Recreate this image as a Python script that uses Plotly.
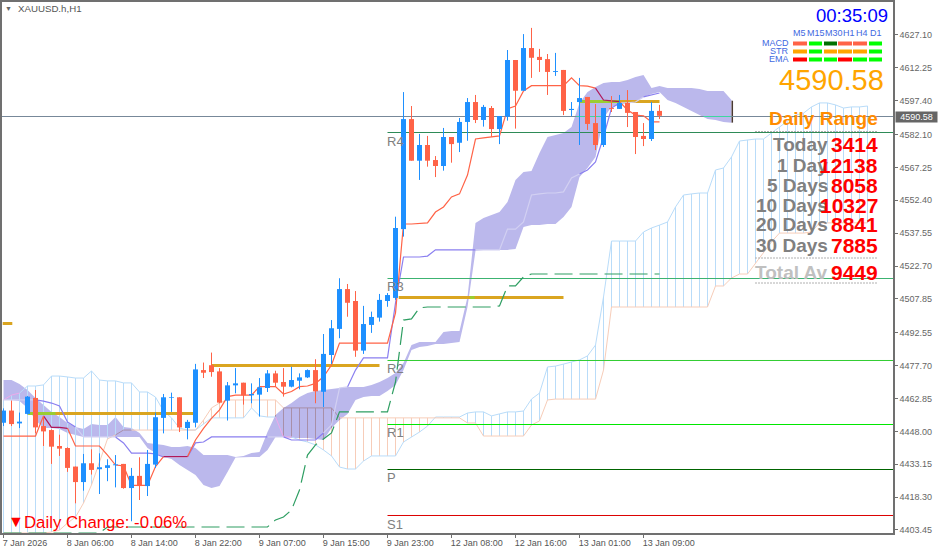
"""
XAUUSD.h H1 chart with Ichimoku cloud, pivots and the daily range panel.
"""

import plotly.graph_objects as go

# ---------------------------------------------------------------------------
# Data
# ---------------------------------------------------------------------------
x_labels = ["7 Jan 2026", "8 Jan 06:00", "8 Jan 14:00", "8 Jan 22:00", "9 Jan 07:00", "9 Jan 15:00",
            "9 Jan 23:00", "12 Jan 08:00", "12 Jan 16:00", "13 Jan 01:00", "13 Jan 09:00"]
x_label_bars = [0, 8, 16, 24, 32, 40, 48, 56, 64, 72, 80]
y_ticks = [4627.10, 4612.25, 4597.40, 4582.10, 4567.25, 4552.40, 4537.55, 4522.70,
           4507.85, 4492.55, 4477.70, 4462.85, 4448.00, 4433.15, 4418.30, 4403.45]

opens = [4451.9, 4457.4, 4451.6, 4455.9, 4463.1, 4450.4, 4448.6, 4441.4, 4440.5, 4432.1,
         4425.1, 4433.6, 4430.9, 4431.5, 4432.7, 4433.3, 4422.4, 4427.9, 4423.3, 4433.0,
         4454.1, 4463.1, 4463.4, 4449.5, 4451.9, 4475.7, 4477.9, 4475.1, 4461.9, 4468.8,
         4470.0, 4464.3, 4464.6, 4467.6, 4474.2, 4470.3, 4468.2, 4470.9, 4472.4, 4475.7,
         4465.9, 4482.5, 4494.3, 4512.3, 4506.9, 4484.5, 4496.1, 4499.4, 4506.9, 4508.3,
         4539.4, 4589.1, 4570.3, 4577.4, 4570.6, 4567.9, 4581.0, 4578.4, 4587.8, 4596.8,
         4588.7, 4594.1, 4584.6, 4590.2, 4615.8, 4601.9, 4621.2, 4617.2, 4616.2, 4610.4,
         4611.3, 4593.2, 4596.8, 4599.1, 4587.3, 4577.4, 4594.1, 4593.7, 4596.4, 4592.3,
         4581.5, 4580.1, 4592.8]
highs = [4458.4, 4461.9, 4456.5, 4464.0, 4466.7, 4455.0, 4448.9, 4446.5, 4440.8, 4432.1,
         4437.8, 4439.9, 4438.1, 4435.4, 4437.3, 4433.3, 4431.5, 4436.3, 4439.6, 4456.5,
         4464.9, 4465.5, 4463.4, 4453.2, 4478.5, 4479.1, 4483.6, 4476.6, 4470.3, 4476.6,
         4470.0, 4469.7, 4472.1, 4475.7, 4475.4, 4476.6, 4477.2, 4474.2, 4476.0, 4480.6,
         4492.0, 4498.3, 4517.2, 4514.6, 4511.4, 4504.7, 4502.1, 4510.1, 4510.5, 4545.0,
         4601.3, 4595.0, 4582.4, 4581.5, 4572.4, 4585.1, 4581.0, 4589.6, 4598.6, 4600.0,
         4595.5, 4595.0, 4590.5, 4620.3, 4615.8, 4627.5, 4630.3, 4620.8, 4618.5, 4619.0,
         4611.3, 4596.8, 4607.7, 4599.1, 4595.9, 4594.1, 4599.5, 4600.0, 4602.2, 4592.3,
         4587.3, 4596.8, 4595.5]
lows = [4450.4, 4450.4, 4449.5, 4455.6, 4447.1, 4441.4, 4433.3, 4436.9, 4429.7, 4415.5,
        4421.2, 4428.5, 4419.7, 4425.5, 4422.7, 4422.1, 4407.4, 4417.0, 4418.8, 4431.5,
        4447.1, 4456.8, 4447.7, 4444.4, 4449.8, 4472.1, 4472.7, 4460.7, 4452.9, 4465.2,
        4460.1, 4460.7, 4454.7, 4465.8, 4468.2, 4463.7, 4467.9, 4467.0, 4472.1, 4460.7,
        4459.0, 4478.4, 4490.1, 4499.8, 4481.7, 4483.0, 4492.5, 4497.6, 4504.3, 4507.4,
        4536.0, 4570.3, 4561.6, 4567.6, 4562.9, 4565.8, 4569.4, 4574.2, 4579.3, 4587.3,
        4585.7, 4581.1, 4577.8, 4588.4, 4584.8, 4601.9, 4607.7, 4610.4, 4600.0, 4608.6,
        4590.9, 4590.5, 4577.4, 4584.2, 4575.1, 4576.5, 4592.3, 4593.7, 4585.5, 4573.3,
        4576.9, 4579.2, 4589.1]
closes = [4457.4, 4451.3, 4452.4, 4463.7, 4449.8, 4448.0, 4441.1, 4440.2, 4431.5, 4425.1,
          4433.6, 4430.6, 4431.8, 4432.7, 4433.1, 4422.4, 4427.9, 4423.3, 4433.3, 4454.4,
          4463.4, 4463.4, 4449.8, 4452.3, 4476.0, 4474.5, 4474.8, 4461.0, 4468.8, 4469.7,
          4464.3, 4464.9, 4467.9, 4474.2, 4470.0, 4468.2, 4471.2, 4472.4, 4475.7, 4466.1,
          4483.0, 4494.6, 4512.3, 4506.1, 4484.5, 4496.5, 4499.7, 4507.4, 4509.6, 4539.9,
          4589.1, 4570.3, 4577.4, 4570.3, 4567.9, 4581.0, 4577.8, 4587.8, 4596.8, 4588.7,
          4594.6, 4584.6, 4590.5, 4615.8, 4601.9, 4621.2, 4616.8, 4615.8, 4610.4, 4610.8,
          4592.8, 4593.7, 4598.6, 4586.9, 4577.4, 4594.1, 4593.7, 4596.4, 4591.9, 4581.0,
          4580.1, 4592.8, 4590.58]

tenkan = [4445.9, 4445.9, 4445.9, 4445.9, 4445.9, 4455.0, 4449.8, 4449.8, 4449.4, 4441.4,
          4441.4, 4441.4, 4441.4, 4437.3, 4432.8, 4432.4, 4423.6, 4423.6, 4423.6, 4432.1,
          4436.6, 4436.6, 4436.6, 4436.6, 4444.1, 4449.4, 4453.9, 4457.7, 4463.7, 4464.4,
          4464.4, 4464.4, 4468.2, 4468.2, 4468.2, 4464.9, 4466.0, 4468.2, 4468.5, 4469.7,
          4472.7, 4478.0, 4487.9, 4487.9, 4487.9, 4487.9, 4487.9, 4487.9, 4487.9, 4501.5,
          4541.7, 4541.7, 4541.9, 4542.2, 4547.1, 4549.4, 4553.9, 4555.3, 4563.8, 4580.1,
          4580.6, 4581.0, 4581.5, 4593.7, 4595.0, 4601.8, 4604.2, 4604.2, 4604.2, 4604.2,
          4604.2, 4607.7, 4604.2, 4604.0, 4603.1, 4597.7, 4597.3, 4597.0, 4593.2, 4590.9,
          4590.6, 4587.8, 4587.8]
kijun = [4462.2, 4462.2, 4462.2, 4462.2, 4462.2, 4461.7, 4460.8, 4459.5, 4452.2, 4450.0,
         4445.5, 4445.5, 4445.5, 4445.5, 4445.5, 4442.8, 4438.2, 4438.2, 4438.2, 4437.8,
         4436.4, 4436.4, 4436.4, 4436.4, 4442.8, 4443.2, 4445.5, 4445.5, 4445.5, 4445.5,
         4445.5, 4445.5, 4445.5, 4445.5, 4445.5, 4445.5, 4444.1, 4444.1, 4444.1, 4444.1,
         4447.3, 4450.9, 4467.6, 4468.1, 4475.7, 4481.2, 4481.2, 4481.2, 4481.2, 4506.0,
         4526.8, 4526.8, 4526.8, 4527.2, 4530.0, 4530.0, 4530.0, 4530.0, 4530.0, 4530.0,
         4530.0, 4530.0, 4530.0, 4539.4, 4539.4, 4542.6, 4554.8, 4555.3, 4555.7, 4555.7,
         4556.2, 4562.5, 4564.3, 4566.1, 4569.7, 4581.0, 4594.1, 4596.4, 4596.4, 4596.8,
         4599.1, 4600.0, 4600.9]
chikou = [4402.1, 4402.1, 4402.1, 4402.1, 4402.1, 4402.1, 4402.1, 4402.1, 4402.1, 4402.1,
          4402.1, 4402.1, 4402.1, 4404.8, 4404.8, 4404.8, 4404.8, 4404.8, 4404.8, 4404.8,
          4404.8, 4404.8, 4404.8, 4404.8, 4404.8, 4404.8, 4404.8, 4404.8, 4404.8, 4404.8,
          4404.8, 4404.8, 4404.8, 4404.8, 4408.0, 4409.3, 4412.5, 4421.5, 4437.3, 4441.9,
          4444.6, 4447.3, 4456.8, 4456.8, 4456.8, 4456.8, 4456.8, 4456.8, 4456.8, 4470.3,
          4498.3, 4498.8, 4503.8, 4504.2, 4504.2, 4504.2, 4504.2, 4504.2, 4504.2, 4504.2,
          4504.2, 4504.2, 4504.7, 4513.7, 4513.7, 4517.8, 4519.1, 4519.1, 4519.1, 4519.1,
          4519.1, 4519.1, 4519.1, 4519.1, 4519.1, 4519.1, 4519.1, 4519.1, 4519.1, 4519.1,
          4519.1, 4519.1, 4519.1]

# hatched cloud, runs 26 bars past the last candle
span_a = [4462.2, 4464.4, 4465.3, 4468.5, 4468.5, 4469.0, 4473.0, 4473.0, 4472.6, 4472.1,
          4472.1, 4475.3, 4471.2, 4470.8, 4470.8, 4469.9, 4469.9, 4465.8, 4465.8, 4463.5,
          4457.2, 4454.1, 4449.5, 4448.6, 4448.6, 4451.3, 4454.1, 4454.1, 4454.1, 4454.1,
          4454.1, 4458.6, 4455.0, 4454.5, 4454.5, 4445.5, 4445.5, 4444.1, 4443.2, 4441.9,
          4439.6, 4436.9, 4431.9, 4431.0, 4431.0, 4434.6, 4436.9, 4436.9, 4436.9, 4436.9,
          4443.2, 4445.5, 4447.7, 4450.4, 4454.5, 4454.5, 4454.5, 4454.5, 4456.3, 4456.8,
          4456.8, 4455.0, 4455.9, 4456.8, 4456.8, 4457.2, 4462.6, 4465.3, 4477.1, 4477.5,
          4478.4, 4479.3, 4480.3, 4482.1, 4487.0, 4508.7, 4534.0, 4534.0, 4534.0, 4534.0,
          4538.1, 4539.9, 4541.2, 4542.6, 4549.4, 4554.8, 4555.3, 4555.7, 4555.7, 4566.1,
          4567.0, 4572.0, 4579.2, 4579.7, 4580.1, 4580.1, 4582.8, 4585.5, 4587.8, 4590.9,
          4591.8, 4594.6, 4596.4, 4596.4, 4595.5, 4594.1, 4594.6, 4594.6, 4595.0]
span_b = [4402.1, 4402.1, 4402.1, 4402.1, 4402.1, 4402.1, 4402.5, 4403.4, 4406.6, 4409.3,
          4415.6, 4423.8, 4434.2, 4444.6, 4446.4, 4448.6, 4448.6, 4448.6, 4448.6, 4448.6,
          4448.6, 4448.6, 4448.6, 4448.6, 4448.6, 4453.1, 4458.6, 4460.8, 4462.2, 4462.2,
          4462.2, 4462.2, 4462.2, 4462.2, 4462.2, 4458.6, 4458.6, 4458.6, 4458.6, 4458.6,
          4458.6, 4458.6, 4454.1, 4454.1, 4454.1, 4454.1, 4454.1, 4454.1, 4454.1, 4454.1,
          4454.1, 4454.1, 4454.1, 4454.1, 4454.1, 4454.1, 4454.1, 4454.1, 4451.8, 4451.8,
          4445.9, 4445.9, 4445.9, 4445.9, 4445.9, 4445.9, 4450.9, 4452.7, 4462.2, 4462.6,
          4462.6, 4462.6, 4462.6, 4462.6, 4462.6, 4475.7, 4504.2, 4504.2, 4504.2, 4504.2,
          4504.2, 4504.2, 4504.2, 4504.2, 4504.2, 4504.2, 4504.2, 4504.2, 4504.2, 4513.7,
          4513.7, 4517.3, 4519.1, 4519.1, 4524.1, 4528.6, 4533.6, 4537.6, 4537.6, 4537.6,
          4537.6, 4538.1, 4542.2, 4542.2, 4542.2, 4542.2, 4542.2, 4542.2, 4542.2]

# filled lavender cloud
cloud_top = [4471.2, 4471.2, 4469.4, 4466.7, 4463.1, 4459.9, 4456.8, 4454.5, 4451.8, 4450.0,
             4449.1, 4451.3, 4450.9, 4450.9, 4454.5, 4450.0, 4449.5, 4447.3, 4442.8, 4442.3,
             4441.9, 4441.0, 4441.0, 4441.4, 4440.5, 4437.3, 4437.3, 4437.3, 4437.3, 4436.4,
             4436.9, 4438.2, 4438.7, 4447.7, 4455.4, 4458.6, 4460.8, 4463.5, 4465.3, 4466.2,
             4466.7, 4467.2, 4467.6, 4468.1, 4468.1, 4468.1, 4469.0, 4470.3, 4472.1, 4474.4,
             4478.9, 4487.0, 4488.4, 4488.4, 4488.4, 4492.9, 4493.4, 4493.4, 4508.7, 4542.2,
             4544.4, 4545.8, 4547.1, 4551.6, 4561.6, 4565.2, 4565.6, 4573.8, 4581.0, 4581.9,
             4582.8, 4585.5, 4596.4, 4601.3, 4603.6, 4605.4, 4605.9, 4605.9, 4606.8, 4608.1,
             4609.0, 4603.1, 4604.0, 4603.1, 4603.1, 4603.1, 4603.1, 4602.7, 4601.8, 4601.8,
             4601.8, 4597.7]
cloud_bottom = [4462.2, 4462.2, 4461.7, 4458.6, 4453.1, 4449.5, 4449.5, 4449.1, 4447.3, 4446.4,
                4445.5, 4445.5, 4445.5, 4445.5, 4445.5, 4445.5, 4445.5, 4445.5, 4440.5, 4438.2,
                4436.4, 4435.5, 4432.8, 4430.6, 4428.3, 4423.8, 4422.4, 4423.3, 4429.7, 4436.2,
                4436.4, 4436.4, 4436.4, 4439.6, 4445.5, 4445.5, 4445.0, 4445.0, 4445.0, 4444.6,
                4444.1, 4449.5, 4453.1, 4455.9, 4462.2, 4463.5, 4464.0, 4464.0, 4466.2, 4469.0,
                4475.7, 4484.8, 4486.1, 4486.6, 4487.5, 4487.5, 4487.9, 4488.4, 4504.2, 4529.6,
                4530.0, 4530.0, 4530.0, 4530.0, 4530.4, 4540.3, 4541.2, 4541.2, 4541.7, 4541.7,
                4544.9, 4549.4, 4562.9, 4567.0, 4572.0, 4589.6, 4594.6, 4595.5, 4596.4, 4596.8,
                4599.1, 4600.4, 4601.3, 4597.7, 4596.4, 4594.6, 4592.8, 4590.9, 4589.1, 4588.7,
                4587.8, 4587.5]
cloud_end_bar = 91.1
cloud_end_prices = [4597.4, 4587.5]

# thick day-open segments: from bar, to bar, price
gold_segments = [(-0.1, 1.1, 4496.74), (3.1, 23.9, 4456.08), (26.0, 47.0, 4477.77), (49.4, 70.0, 4508.49), (72.0, 82.0, 4597.04)]
gold_over_cloud = [(3.1, 6.5, 4456.08), (58.3, 58.9, 4508.49), (72.0, 77.0, 4597.04)]

bid_price = 4590.27
bid_text = "4590.58"
bid_over_cloud = [(71.6, 74.7), (87.5, 90.9)]

pivot_start_bar = 48
pivot_names = ["R4", "R3", "R2", "R1", "P", "S1"]
pivot_prices = [4583.04, 4517.07, 4480.03, 4451.11, 4430.78, 4410.0]
pivot_colors = ["#2e8b57", "#3cb371", "#32cd32", "#00e800", "#006400", "#dc0000"]

# signal panel
panel_periods = ["M5", "M15", "M30", "H1", "H4", "D1"]
panel_rows = ["MACD", "STR", "EMA"]
panel_colors = [
    ["#ff6347", "#00ff00", "#007000", "#ff6347", "#ff6347", "#00ff00"],
    ["#ffa500", "#00ff00", "#ffa500", "#ffa500", "#ffa500", "#00ff00"],
    ["#ff0000", "#00ff00", "#00ff00", "#ff0000", "#00ff00", "#00ff00"],
]

# daily range panel
range_names = ["Today", "1 Day", "5 Days", "10 Days", "20 Days", "30 Days", "Total Av"]
range_values = ["3414", "12138", "8058", "10327", "8841", "7885", "9449"]

# ---------------------------------------------------------------------------
# Page geometry (pixels in the 939x554 window)
# ---------------------------------------------------------------------------
WIDTH, HEIGHT = 939, 554
LEFT, RIGHT, TOP, BOTTOM = 2, 893, 2, 533
BAR_PX = 8
FIRST_BAR_PX = 3.5
FONT = "Liberation Sans"

x_range = [(LEFT - FIRST_BAR_PX) / BAR_PX, (RIGHT - FIRST_BAR_PX) / BAR_PX]
y_range = [4402.09, 4642.0]


def px_x(px):
    return (px - LEFT) / (RIGHT - LEFT)


def px_y(px):
    return 1 - (px - TOP) / (BOTTOM - TOP)


def sticks(bars, low, high):
    """Vertical strokes as one path with gaps."""
    xs, ys = [], []
    for i, lo, hi in zip(bars, low, high):
        xs += [i, i, None]
        ys += [lo, hi, None]
    return xs, ys


def split_by_cloud(values):
    """Split a line into the part outside and the part inside the lavender cloud."""
    flags = [i < len(cloud_top) and cloud_bottom[i] <= v <= cloud_top[i] for i, v in enumerate(values)]
    inside = [v if f else None for v, f in zip(values, flags)]
    outside = []
    for i, v in enumerate(values):
        near = flags[max(i - 1, 0)] and flags[min(i + 1, len(values) - 1)] and flags[i]
        outside.append(None if near else v)
    return outside, inside


fig = go.Figure()


def add_line(x, y, color, width=1, dash=None):
    fig.add_trace(go.Scatter(x=x, y=y, mode="lines", line=dict(color=color, width=width, dash=dash),
                             hoverinfo="skip", connectgaps=False))


def add_split_line(values, color, inside_color, width=1):
    outside, inside = split_by_cloud(values)
    bars = list(range(len(values)))
    add_line(bars, outside, color, width=width)
    add_line(bars, inside, inside_color, width=width)


# ---------------------------------------------------------------------------
# Cloud and hatching
# ---------------------------------------------------------------------------
cloud_bars = list(range(len(cloud_top)))
fig.add_trace(go.Scatter(x=cloud_bars + cloud_bars[::-1], y=cloud_top + cloud_bottom[::-1], mode="lines",
                         fill="toself", fillcolor="#bbb8ec", line=dict(width=0), hoverinfo="skip"))
add_line([cloud_end_bar, cloud_end_bar], cloud_end_prices, "#4a3a30", width=1.5)

hatch_bars = list(range(len(span_a)))
up = [i for i in hatch_bars if span_a[i] >= span_b[i]]
down = [i for i in hatch_bars if span_a[i] < span_b[i]]
xs, ys = sticks(up, [span_b[i] for i in up], [span_a[i] for i in up])
add_line(xs, ys, "#b9dcf9")
xs, ys = sticks(down, [span_a[i] for i in down], [span_b[i] for i in down])
add_line(xs, ys, "#f7cdb9")

# salmon hatch looks mauve where it crosses the cloud
over = [i for i in down if i < len(cloud_top)]
lo = [max(span_a[i], cloud_bottom[i]) for i in over]
hi = [min(span_b[i], cloud_top[i]) for i in over]
keep = [k for k in range(len(over)) if hi[k] > lo[k]]
xs, ys = sticks([over[k] for k in keep], [lo[k] for k in keep], [hi[k] for k in keep])
add_line(xs, ys, "#a88fa8")

add_split_line(span_a, "#b9dcf9", "#efa8ea")
add_split_line(span_b, "#f7cdb9", "#a88fa8")

# ---------------------------------------------------------------------------
# Levels
# ---------------------------------------------------------------------------
add_line(x_range, [bid_price, bid_price], "#778899")
for start, end in bid_over_cloud:
    add_line([start, end], [bid_price, bid_price], "#3ed6a0")

for price, color in zip(pivot_prices, pivot_colors):
    add_line([pivot_start_bar, x_range[1]], [price, price], color)

for start, end, price in gold_segments:
    add_line([start, end], [price, price], "#daa520", width=3)
for start, end, price in gold_over_cloud:
    add_line([start, end], [price, price], "#9acd32", width=3)

# ---------------------------------------------------------------------------
# Ichimoku lines
# ---------------------------------------------------------------------------
add_split_line(kijun, "#8a7ff0", "#d2d0f2", width=1.2)
add_split_line(tenkan, "#ff6347", "#b0185a", width=1.2)
add_line(list(range(len(chikou))), chikou, "#2e9e62", width=1.2, dash="18px,7px")

# ---------------------------------------------------------------------------
# Candles
# ---------------------------------------------------------------------------
for color, is_bull in (("#1e90ff", True), ("#ff6347", False)):
    bars = [i for i in range(len(opens)) if (closes[i] >= opens[i]) == is_bull]
    xs, ys = sticks(bars, [lows[i] for i in bars], [highs[i] for i in bars])
    add_line(xs, ys, color)
    xs, ys = sticks(bars, [min(opens[i], closes[i]) for i in bars], [max(opens[i], closes[i]) for i in bars])
    add_line(xs, ys, color, width=5)

# ---------------------------------------------------------------------------
# Text and panels
# ---------------------------------------------------------------------------
shapes = []
annotations = []


def label(px, py, text, size, color, anchor="left"):
    # annotations keep a small box around the text, take it back out here
    shift = {"left": -1, "right": 2, "center": 0}[anchor]
    annotations.append(dict(x=px_x(px + shift), y=px_y(py), xref="paper", yref="paper",
                            text=text, showarrow=False, xanchor=anchor, yanchor="middle", borderpad=0,
                            font=dict(family=FONT, size=size, color=color)))


label(5, 8, "▼", 7, "#666666")
label(18, 8, "XAUUSD.h,H1", 9.7, "#555555")
label(887, 15, "00:35:09", 18.5, "#0000ff", "right")

for name, center in zip(panel_periods, [799, 815.5, 833.5, 849, 861.5, 875.5]):
    label(center, 33, name, 9, "#4169e1", "center")
for name, py in zip(panel_rows, [43, 51, 59]):
    label(788, py, name, 9, "#4169e1", "right")

cell_edges = [(793, 807), (809, 822), (824, 837), (838, 852), (853, 867), (869, 882)]
for row, py in zip(panel_colors, [43.5, 51.5, 59.5]):
    for color, (x0, x1) in zip(row, cell_edges):
        shapes.append(dict(type="rect", xref="paper", yref="paper", x0=px_x(x0), x1=px_x(x1),
                           y0=px_y(py - 2), y1=px_y(py + 2), fillcolor=color, line_width=0))

label(883, 80, "4590.58", 29, "#ffa500", "right")
label(877, 119, "<b>Daily Range</b>", 19, "#ff8c00", "right")

for py in [131.5, 258, 283]:
    shapes.append(dict(type="line", xref="paper", yref="paper", x0=px_x(755), x1=px_x(877),
                       y0=px_y(py), y1=px_y(py), line=dict(color="#b0b0b0", width=1, dash="2px,1px")))

for name, value, py in zip(range_names, range_values, [145, 165, 185, 205, 225, 245, 272]):
    color = "#c0c0c0" if name == "Total Av" else "#808080"
    label(827, py, f"<b>{name}</b>", 19, color, "right")
    label(877, py, f"<b>{value}</b>", 21, "#ff0000", "right")

for name, py in zip(pivot_names, [141, 286, 368, 432, 477, 524]):
    label(387, py, name, 13, "#808080")

label(8, 521, "▼", 16, "#ff0000")
label(24, 522, "Daily Change: -0.06%", 16.8, "#ff0000")

# current price tag on the axis
annotations.append(dict(x=px_x(895), y=bid_price, xref="paper", yref="y", text=bid_text, showarrow=False,
                        xanchor="left", yanchor="middle", bgcolor="#666666", borderpad=0, width=41, height=10,
                        align="center", font=dict(family=FONT, size=9, color="white")))

fig.update_layout(
    width=WIDTH,
    height=HEIGHT,
    margin=dict(l=LEFT, r=WIDTH - RIGHT, t=TOP, b=HEIGHT - BOTTOM, pad=0),
    paper_bgcolor="white",
    plot_bgcolor="white",
    showlegend=False,
    hovermode=False,
    shapes=shapes,
    annotations=annotations,
    xaxis=dict(range=x_range, tickmode="array", tickvals=x_label_bars, ticktext=x_labels, showgrid=False,
               zeroline=False, showline=True, mirror=True, linecolor="#707070", linewidth=1.5,
               ticks="outside", ticklen=3, tickcolor="#707070", ticklabelposition="outside right",
               ticklabelshift=-2, automargin=False, tickfont=dict(family=FONT, size=9, color="#555555")),
    yaxis=dict(range=y_range, side="right", tickmode="array", tickvals=y_ticks, tickformat=".2f", showgrid=False,
               zeroline=False, showline=True, mirror=True, linecolor="#707070", linewidth=1.5,
               ticks="outside", ticklen=3, tickcolor="#707070", automargin=False,
               tickfont=dict(family=FONT, size=9, color="#666666")),
)

# the page default of an 8px body margin would push the chart out of the window
fig.write_html("out.html", config={"displayModeBar": False}, post_script="document.body.style.margin = '0';")
